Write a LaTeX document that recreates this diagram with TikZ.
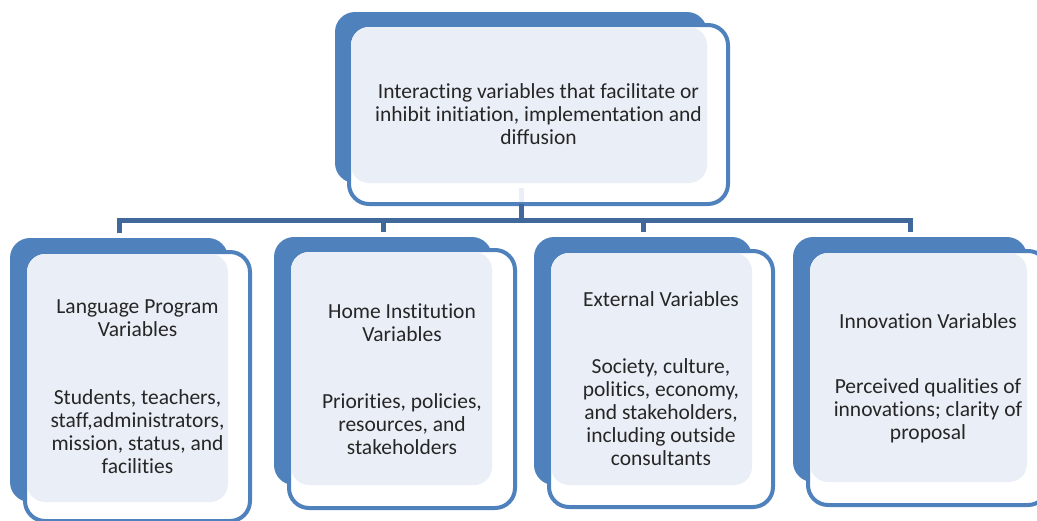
\documentclass[tikz,border=0pt]{standalone}
\usepackage{fontspec}
\setmainfont{Carlito}[Ligatures=NoCommon]
\begin{document}
\definecolor{cblue}{HTML}{4F81BD}
\definecolor{cline}{HTML}{41689A}
\definecolor{clight}{HTML}{EAEFF7}
\definecolor{ctext}{HTML}{262626}
\begin{tikzpicture}[x=1pt,y=-1pt,
  backbox/.style={fill=cblue, rounded corners=20pt, inner sep=0pt, outer sep=0pt},
  frontbox/.style={draw=cblue, line width=4pt, fill=white, rounded corners=20pt, inner sep=0pt, outer sep=0pt},
  lightbox/.style={fill=clight, rounded corners=18pt},
  conn/.style={draw=cline, line width=5pt, line join=miter},
  ghost/.style={draw=clight, line width=5pt},
  label/.style={font=\fontsize{21.5}{23}\selectfont, text=ctext, align=center, inner sep=0pt}]
\useasboundingbox (0,0) rectangle (1037,520);
\clip (0,0) rectangle (1037,520);

% junction level of the connector bus
\coordinate (bus) at (521,220);

% back plates
\node[backbox, minimum width=372pt, minimum height=171pt] (topb) at (521,97.5) {};
\node[backbox, minimum width=218pt, minimum height=264pt] (c1b) at (119,370) {};
\node[backbox, minimum width=218pt, minimum height=248pt] (c2b) at (383,361) {};
\node[backbox, minimum width=218pt, minimum height=248pt] (c3b) at (643,361) {};
\node[backbox, minimum width=234pt, minimum height=245pt] (c4b) at (910,359.5) {};

% connectors
\draw[conn] ([yshift=5pt]c1b.north) -- (c1b.north |- bus) -- (c4b.north |- bus) -- ([yshift=5pt]c4b.north);
\draw[conn] (c2b.north |- bus) -- ([yshift=5pt]c2b.north);
\draw[conn] (c3b.north |- bus) -- ([yshift=5pt]c3b.north);

% framed cards
\node[frontbox, minimum width=379pt, minimum height=179pt] (topf) at (538.5,114.5) {};
\node[frontbox, minimum width=225pt, minimum height=269pt] (c1f) at (137.5,386.5) {};
\node[frontbox, minimum width=226pt, minimum height=258pt] (c2f) at (402,379) {};
\node[frontbox, minimum width=224pt, minimum height=256pt] (c3f) at (661,379) {};
\node[frontbox, minimum width=240pt, minimum height=254pt] (c4f) at (928,378) {};

% stem from the top card down to the bus
\draw[conn] (topb.south |- topf.south) -- (bus);
\draw[ghost] ([yshift=-5pt]topb.south) -- ([yshift=2pt]topb.south |- topf.south);

% tinted overlap of plate and frame
\fill[lightbox] ([shift={(2,2)}]topf.north west) rectangle (topb.south east);
\fill[lightbox] ([shift={(2,2)}]c1f.north west) rectangle (c1b.south east);
\fill[lightbox] ([shift={(2,2)}]c2f.north west) rectangle (c2b.south east);
\fill[lightbox] ([shift={(2,2)}]c3f.north west) rectangle (c3b.south east);
\fill[lightbox] ([shift={(2,2)}]c4f.north west) rectangle (c4b.south east);

% texts
\node[label] (toptext) at (topf.center) {Interacting variables that facilitate or\\inhibit initiation, implementation and\\diffusion};
\node[label] (c1text) at (c1f.center) {Language Program\\Variables\\[45pt]Students, teachers,\\staff,administrators,\\mission, status, and\\facilities};
\node[label] (c2text) at (c2f.center) {Home Institution\\Variables\\[44pt]Priorities, policies,\\resources, and\\stakeholders};
\node[label] (c3text) at (c3f.center) {External Variables\\[44pt]Society, culture,\\politics, economy,\\and stakeholders,\\including outside\\consultants};
\node[label] (c4text) at (c4f.center) {Innovation Variables\\[42pt]Perceived qualities of\\innovations; clarity of\\proposal};
\end{tikzpicture}
\end{document}
